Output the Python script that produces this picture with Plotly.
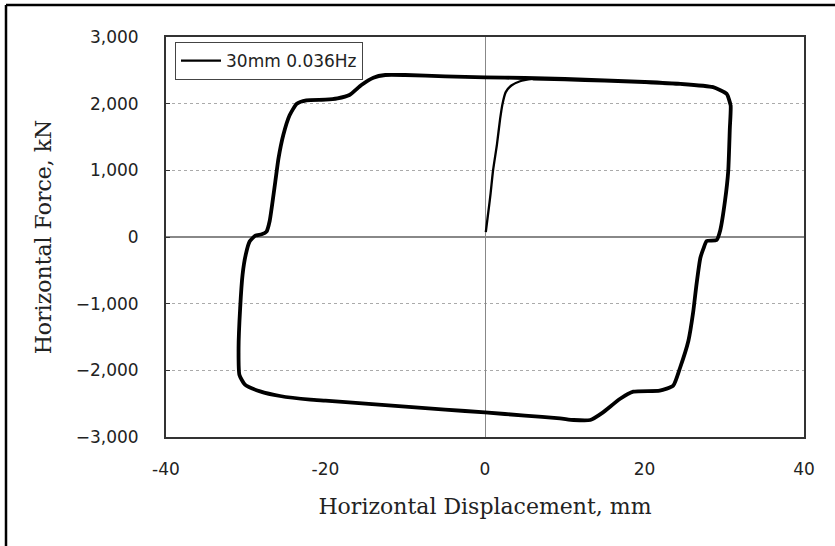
import plotly.graph_objects as go

# Initial loading curve (mm, kN)
disp_initial = [0.1, 0.4, 0.7, 1.0, 1.5, 1.9, 2.2, 2.6, 3.3, 4.4, 6.0]
force_initial = [73, 360, 650, 990, 1390, 1774, 2000, 2173, 2272, 2336, 2375]

# Hysteresis loop (mm, kN)
disp_loop = [6.0, 10, 15, 20, 24.5, 28.6, 30.3, 30.8, 30.7, 30.5, 30.1, 29.5, 29.05, 27.8,
             27.4, 27.0, 26.5, 26.1, 25.5, 24.45, 23.6, 21.9, 18.6, 16.9, 14.8, 13.2, 11.1,
             9.4, 5, 0, -5, -10, -15, -20, -21.9, -25.7, -28.2, -30.1, -30.8, -30.9, -30.7,
             -30.4, -30.0, -29.5, -28.8, -28.0, -27.4, -27.0, -26.3, -25.9, -25.3, -24.5,
             -23.6, -22.4, -20, -18.5, -17, -15.5, -14, -12.5, -10, -5, 0, 5, 10, 15, 20,
             24.5, 28.6, 30.3, 30.8]
force_loop = [2375, 2365, 2345, 2322, 2296, 2247, 2148, 1976, 1630, 990, 546, 102, -45, -60,
              -170, -315, -730, -1130, -1560, -1965, -2230, -2305, -2320, -2430, -2630, -2745,
              -2745, -2720, -2680, -2630, -2590, -2545, -2500, -2455, -2440, -2385, -2315,
              -2215, -2065, -1665, -1065, -565, -265, -65, 20, 40, 80, 240, 825, 1175, 1525,
              1825, 2000, 2050, 2060, 2080, 2130, 2280, 2390, 2430, 2430, 2410, 2395, 2385,
              2370, 2350, 2325, 2296, 2247, 2148, 1976]

x_ticks = [-40, -20, 0, 20, 40]
y_ticks = [-3000, -2000, -1000, 0, 1000, 2000, 3000]
series_name = "30mm 0.036Hz"

W, H = 835, 546
L, R, T, B = 166, 804, 37, 437

fig = go.Figure()
fig.add_trace(go.Scatter(x=disp_initial, y=force_initial, mode="lines", name=series_name,
                         line=dict(color="black", width=2.3, shape="spline", smoothing=0.6),
                         legendgroup="a"))
fig.add_trace(go.Scatter(x=disp_loop, y=force_loop, mode="lines", name=series_name,
                         line=dict(color="black", width=3.8, shape="spline", smoothing=0.5),
                         legendgroup="a", showlegend=False))

sans = "DejaVu Sans"
serif = "DejaVu Serif"

fig.update_layout(
    width=W, height=H,
    margin=dict(l=L, r=W - R, t=T, b=H - B),
    paper_bgcolor="white", plot_bgcolor="white",
    showlegend=True,
    legend=dict(x=(175 - L) / (R - L), y=(B - 42) / (B - T), xanchor="left", yanchor="top",
                bgcolor="white", bordercolor="#444", borderwidth=1,
                font=dict(family=sans, size=17, color="#222"),
                tracegroupgap=0, itemwidth=40),
    xaxis=dict(range=[-40, 40], tickvals=x_ticks, ticktext=[f"{v:,}" for v in x_ticks],
               showgrid=False, zeroline=True, zerolinecolor="#888", zerolinewidth=1.2,
               showline=True, mirror=True, linecolor="#333", linewidth=2,
               ticks="", tickfont=dict(family=sans, size=17, color="#222"),
               ticklabelstandoff=16,
               title=dict(text="Horizontal Displacement, mm",
                          font=dict(family=serif, size=22, color="#222"), standoff=20)),
    yaxis=dict(range=[-3000, 3000], tickvals=y_ticks, tickformat=",",
               showgrid=True, gridcolor="#aaa", griddash="dot", gridwidth=1,
               zeroline=True, zerolinecolor="#888", zerolinewidth=1.5,
               showline=True, mirror=True, linecolor="#333", linewidth=2,
               ticks="inside", ticklen=4, tickcolor="#333",
               tickfont=dict(family=sans, size=17, color="#222"),
               ticklabelstandoff=22,
               title=dict(text="Horizontal Force, kN",
                          font=dict(family=serif, size=22, color="#222"), standoff=18)),
)

# outer frame (top and left edges of the figure box)
def px(xp):
    return (xp - L) / (R - L)

def py(yp):
    return (B - yp) / (B - T)

fig.add_shape(type="line", xref="paper", yref="paper", x0=px(6), x1=px(840), y0=py(5), y1=py(5),
              line=dict(color="black", width=2.5))
fig.add_shape(type="line", xref="paper", yref="paper", x0=px(6), x1=px(6), y0=py(5), y1=py(550),
              line=dict(color="black", width=2.5))

fig.write_html("out.html")
